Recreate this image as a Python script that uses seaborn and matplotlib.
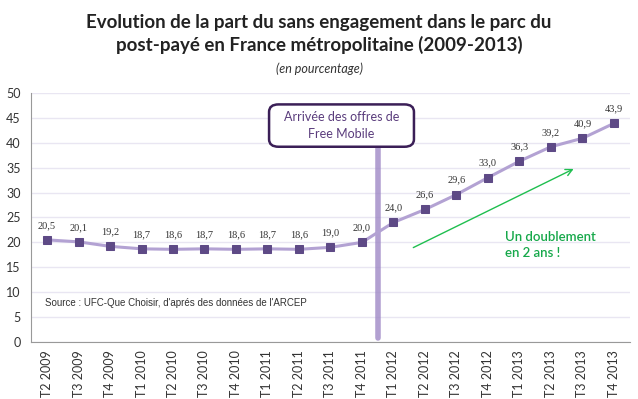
import matplotlib
matplotlib.use("Agg")
import matplotlib.pyplot as plt
import seaborn as sns
import pandas as pd
from matplotlib.patches import FancyBboxPatch

# données
quarters = ["T2 2009", "T3 2009", "T4 2009", "T1 2010", "T2 2010", "T3 2010", "T4 2010",
            "T1 2011", "T2 2011", "T3 2011", "T4 2011", "T1 2012", "T2 2012", "T3 2012",
            "T4 2012", "T1 2013", "T2 2013", "T3 2013", "T4 2013"]
share = [20.5, 20.1, 19.2, 18.7, 18.6, 18.7, 18.6, 18.7, 18.6, 19.0, 20.0,
         24.0, 26.6, 29.6, 33.0, 36.3, 39.2, 40.9, 43.9]

df = pd.DataFrame({"trimestre": quarters, "part": share})

sns.set_style("white")
plt.rcParams['font.family'] = ['Lato', 'DejaVu Sans']

fig = plt.figure(figsize=(6.38, 3.99), dpi=100)
ax = fig.add_axes([0.049, 0.143, 0.938, 0.624])

line_col = "#b3a2d3"
mark_col = "#5e4a86"

sns.lineplot(data=df, x="trimestre", y="part", ax=ax, sort=False, color=line_col,
             linewidth=2.2, marker="s", markersize=5.5, markerfacecolor=mark_col,
             markeredgecolor=mark_col, zorder=3)

for i, v in enumerate(share):
    ax.text(i, v + 2.0, f"{v:.1f}".replace(".", ","), ha="center", va="bottom",
            fontsize=7.5, color="#333333", family="Liberation Serif")

ax.set_xlim(-0.5, len(quarters) - 0.5)
ax.set_ylim(0, 50)
ax.set_yticks(range(0, 51, 5))
ax.set_xticks(range(len(quarters)))
ax.set_xticklabels(quarters, rotation=90, fontsize=9, color="#333333")
ax.tick_params(axis="x", length=0, pad=6)
ax.set_xticks([i + 0.5 for i in range(-1, len(quarters))], minor=True)
ax.tick_params(axis="x", which="minor", length=4, color="#888888")
ax.tick_params(axis="y", labelsize=9, labelcolor="#333333", length=4, color="#888888")
ax.set_xlabel("")
ax.set_ylabel("")
ax.grid(axis="y", color="#e9e6f2", linewidth=1)
ax.set_axisbelow(True)
for s in ["top", "right"]:
    ax.spines[s].set_visible(False)
for s in ["left", "bottom"]:
    ax.spines[s].set_color("#999999")

# ligne Free Mobile
ax.plot([10.5, 10.5], [0.8, 39], color="#9f89c6", linewidth=4, alpha=0.8, zorder=2)
box = FancyBboxPatch((7.05, 39.2), 4.6, 8.5, boxstyle="round,pad=0,rounding_size=0.3",
                     facecolor="white", edgecolor="#3b1f57", linewidth=1.8, zorder=4,
                     mutation_aspect=5)
ax.add_patch(box)
ax.text(9.35, 43.5, "Arrivée des offres de\nFree Mobile", ha="center", va="center",
        fontsize=9, color="#5a3c7c", zorder=5, linespacing=1.5)

# flèche
ax.annotate("", xy=(16.8, 35.0), xytext=(11.55, 18.7),
            arrowprops=dict(arrowstyle="->", color="#1fbf4f", lw=1, mutation_scale=12))
ax.text(14.55, 19.5, "Un doublement\nen 2 ans !", ha="left", va="center", fontsize=9.5,
        color="#16a84a", linespacing=1.4, fontweight="semibold")

ax.text(-0.05, 7.8, "Source : UFC-Que Choisir, d'aprés des données de l'ARCEP",
        fontsize=7, color="#333333", family="Liberation Sans", va="center")

fig.text(0.5, 0.915, "Evolution de la part du sans engagement dans le parc du\n"
         "post-payé en France métropolitaine (2009-2013)", ha="center", va="center",
         fontsize=13.5, fontweight="bold", color="#222222", linespacing=1.35)
fig.text(0.5, 0.828, "(en pourcentage)", ha="center", va="center", fontsize=9,
         style="italic", color="#333333")

fig.savefig("out.png", dpi=100)
